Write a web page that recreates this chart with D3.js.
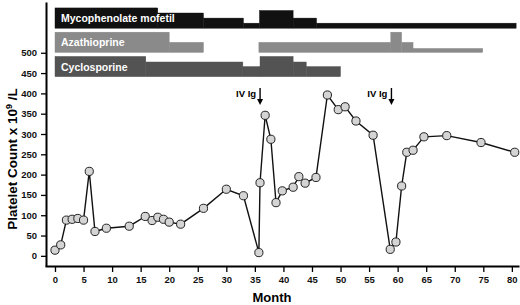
<!DOCTYPE html>
<html>
<head>
<meta charset="utf-8">
<script src="https://cdn.jsdelivr.net/npm/d3@7"></script>
<style>
  body { margin: 0; background: #fff; }
  svg { font-family: Arial, "Liberation Sans", Helvetica, sans-serif; font-weight: bold; }
</style>
</head>
<body>
<div id="container"></div>
<script>
let w = 520;
let h = 305;

// platelet counts
let months = [0, 1, 2, 3, 4, 5, 6, 7, 9, 13, 15.8, 17, 18, 19, 20, 22, 26, 30, 33, 35.7, 35.9,
  36.8, 37.8, 38.7, 39.8, 41.7, 42.7, 43.8, 45.7, 47.7, 49.6, 50.8, 52.7, 55.7,
  58.7, 59.7, 60.7, 61.6, 62.7, 64.6, 68.6, 74.6, 80.5];
let platelets = [14, 27, 88, 90, 92, 88, 208, 60, 68, 73, 97, 87, 95, 90, 83, 78, 117, 164, 148, 8, 180,
  346, 287, 131, 160, 169, 195, 179, 193, 396, 360, 367, 332, 297,
  16, 34, 172, 255, 260, 293, 296, 279, 255];

// drug regimens: [start month, end month, dose]
let drugs = ["Mycophenolate mofetil", "Azathioprine", "Cyclosporine"];
let mycophenolate = [[0, 18, 2000], [18, 26, 1500], [26, 33, 1000], [33, 35.8, 500],
  [35.8, 41.7, 1750], [41.7, 45.8, 1000], [45.8, 80.75, 500]];
let azathioprine = [[0, 20, 100], [20, 26, 50], [35.7, 58.8, 50], [58.8, 60.7, 100],
  [60.7, 62.7, 50], [62.7, 74.9, 20]];
let cyclosporine = [[0, 15.9, 200], [15.9, 32.9, 145], [32.9, 35.9, 100], [35.9, 41.7, 200],
  [41.7, 44, 145], [44, 50, 100]];
let maxDose = [2000, 100, 200];

let ivigMonths = [36, 59];
let yTicks = [0, 50, 100, 150, 200, 250, 300, 350, 400, 450, 500];
let xTicks = [0, 5, 10, 15, 20, 25, 30, 35, 40, 45, 50, 55, 60, 65, 70, 75, 80];

let viz = d3.select("#container").append("svg")
  .attr("width", w)
  .attr("height", h);

let xScale = d3.scaleLinear().domain([-1.75, 81.25]).range([45, 519]);
let yScale = d3.scaleLinear().domain([-25, 625]).range([266, 2]);
let rowScale = d3.scaleBand().domain(drugs).range([4, 76.7]);
let colors = ["#111111", "#8a8a8a", "#535353"];

// drug bars
[mycophenolate, azathioprine, cyclosporine].forEach(function(segs, i) {
  let name = drugs[i];
  let bottom = rowScale(name) + rowScale.bandwidth();
  let hScale = d3.scaleLinear().domain([0, maxDose[i]]).range([0, 20.3]);
  viz.append("g").selectAll("rect").data(segs).enter().append("rect")
    .attr("x", d => xScale(d[0]))
    .attr("width", d => xScale(d[1]) - xScale(d[0]))
    .attr("y", d => bottom - hScale(d[2]))
    .attr("height", d => hScale(d[2]))
    .attr("fill", colors[i])
    .attr("stroke", colors[i])
    .attr("stroke-width", 0.4);
  viz.append("text")
    .attr("x", xScale(0) + 6)
    .attr("y", bottom - 6)
    .attr("fill", "#fff")
    .attr("font-size", "10.5px")
    .text(name);
});

// axes
let xAxisGroup = viz.append("g").attr("transform", "translate(0,266)");
xAxisGroup.call(d3.axisBottom(xScale).tickValues(xTicks).tickSize(6).tickSizeOuter(0).tickPadding(4));
let yAxisGroup = viz.append("g").attr("transform", "translate(46,0)");
yAxisGroup.call(d3.axisLeft(yScale).tickValues(yTicks).tickSize(5).tickSizeOuter(0).tickPadding(4));
[xAxisGroup, yAxisGroup].forEach(function(g) {
  g.select(".domain").attr("stroke", "#000").attr("stroke-width", 2);
  g.selectAll(".tick line").attr("stroke", "#000").attr("stroke-width", 1.3);
  g.selectAll(".tick text").attr("fill", "#111").attr("font-size", "9.5px")
    .attr("font-family", "Arial, 'Liberation Sans', sans-serif").attr("font-weight", "bold");
});

// line + points
let pts = months.map((m, i) => ({ m: m, v: platelets[i] }));
viz.append("path").datum(pts)
  .attr("d", d3.line().x(d => xScale(d.m)).y(d => yScale(d.v)))
  .attr("fill", "none")
  .attr("stroke", "#111")
  .attr("stroke-width", 1.4);
viz.selectAll(".datapoint").data(pts).enter().append("circle")
  .attr("class", "datapoint")
  .attr("cx", d => xScale(d.m))
  .attr("cy", d => yScale(d.v))
  .attr("r", 4.1)
  .attr("fill", "#d4d4d4")
  .attr("stroke", "#222")
  .attr("stroke-width", 1);

// IV Ig markers
ivigMonths.forEach(function(m) {
  let xp = xScale(m) - 0.5;
  viz.append("line").attr("x1", xp).attr("x2", xp).attr("y1", 88).attr("y2", 100)
    .attr("stroke", "#000").attr("stroke-width", 1.4);
  viz.append("path")
    .attr("d", "M" + (xp - 3) + ",99 L" + (xp + 3) + ",99 L" + xp + ",105 Z")
    .attr("fill", "#000");
  viz.append("text").attr("x", xp - 4).attr("y", 97)
    .attr("text-anchor", "end").attr("font-size", "9.5px").text("IV Ig");
});

// axis titles
viz.append("text").attr("x", 272).attr("y", 302).attr("text-anchor", "middle")
  .attr("font-size", "13px").text("Month");
let yt = viz.append("text")
  .attr("transform", "translate(17,159) rotate(-90)")
  .attr("text-anchor", "middle")
  .attr("font-size", "13.5px");
yt.append("tspan").text("Platelet Count x 10");
yt.append("tspan").attr("font-size", "9px").attr("dy", -5).text("9");
yt.append("tspan").attr("dy", 5).text(" /L");
</script>
</body>
</html>
